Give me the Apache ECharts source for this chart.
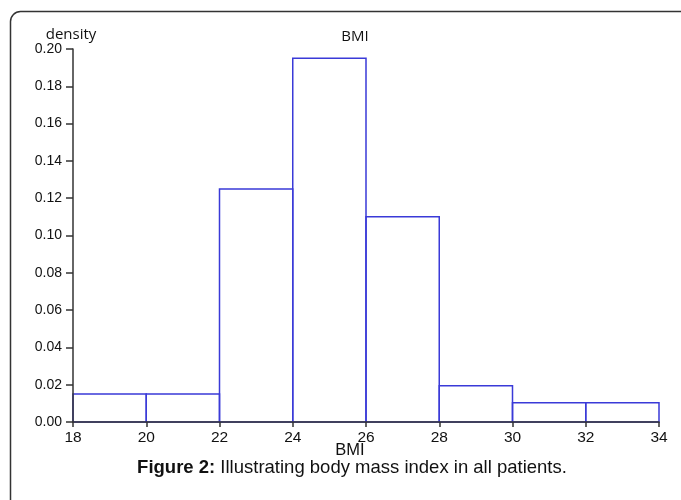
<!DOCTYPE html>
<html>
<head>
<meta charset="utf-8">
<script src="https://cdn.jsdelivr.net/npm/echarts@6/dist/echarts.min.js"></script>
<style>html,body{margin:0;padding:0;background:#fff;}#c{width:681px;height:500px;}</style>
</head>
<body>
<div id="c"></div>
<script>
// Histogram bins of BMI (start, end) and density
const binStarts = [18, 20, 22, 24, 26, 28, 30, 32];
const binEnds   = [20, 22, 24, 26, 28, 30, 32, 34];
const densities = [0.015, 0.015, 0.125, 0.195, 0.110, 0.0195, 0.0103, 0.0103];
const yTicks = ['0.00','0.02','0.04','0.06','0.08','0.10','0.12','0.14','0.16','0.18','0.20'];
const xTicks = ['18','20','22','24','26','28','30','32','34'];

const data = binStarts.map((s, i) => [s, binEnds[i], densities[i]]);
const lineColor = '#3a3ad8';
const axisColor = '#333333';

const chart = echarts.init(document.getElementById('c'), null, {renderer: 'canvas'});
chart.setOption({
  backgroundColor: '#ffffff',
  animation: false,
  title: [
    {text: 'BMI', left: 350, top: 24, textAlign: 'center',
     textStyle: {fontFamily: 'Open Sans', fontSize: 15, fontWeight: 'normal', color: '#111'}},
    {text: '{b|Figure 2:} Illustrating body mass index in all patients.', left: 347, top: 453, textAlign: 'center',
     textStyle: {fontFamily: 'Liberation Sans', fontSize: 18.5, fontWeight: 'normal', color: '#111',
       rich: {b: {fontFamily: 'Liberation Sans', fontSize: 18.5, fontWeight: 'bold', color: '#111'}}}}
  ],
  graphic: [
    {type: 'rect', shape: {x: 10.5, y: 11.5, width: 720, height: 560, r: 10}, silent: true,
     style: {fill: 'none', stroke: '#333', lineWidth: 1.5}, z: -10}
  ],
  grid: {left: 73, right: 22, top: 49, bottom: 78, containLabel: false},
  xAxis: {
    type: 'value', min: 18, max: 34, interval: 2, z: 5,
    name: 'BMI', nameLocation: 'middle', nameGap: 20, nameMoveOverlap: false,
    nameTextStyle: {fontFamily: 'Liberation Sans', fontSize: 16.5, color: '#111', padding: [0, 32, 0, 0]},
    axisLine: {show: true, lineStyle: {color: axisColor, width: 1.5}},
    axisTick: {show: true, inside: false, length: 5, lineStyle: {color: axisColor, width: 1.5}},
    axisLabel: {margin: 8, fontFamily: 'Liberation Sans', fontSize: 15.5, color: '#111',
      formatter: v => xTicks[xTicks.indexOf(String(v))] || String(v)},
    splitLine: {show: false}
  },
  yAxis: {
    type: 'value', min: 0, max: 0.2, interval: 0.02, z: 5,
    name: 'density', nameLocation: 'end', nameGap: 3,
    nameTextStyle: {fontFamily: 'Open Sans', fontSize: 15, color: '#111', align: 'center', verticalAlign: 'bottom', padding: [0, 4, 0, 0]},
    axisLine: {show: true, lineStyle: {color: axisColor, width: 1.5}},
    axisTick: {show: true, inside: false, length: 7, lineStyle: {color: axisColor, width: 1.5}},
    axisLabel: {margin: 11, fontFamily: 'Liberation Sans', fontSize: 14, color: '#111',
      formatter: v => yTicks[Math.round(v / 0.02)]},
    splitLine: {show: false}
  },
  series: [{
    type: 'custom',
    z: 1,
    data: data,
    encode: {x: [0, 1], y: 2},
    renderItem: function (params, api) {
      const p0 = api.coord([api.value(0), 0]);
      const p1 = api.coord([api.value(1), api.value(2)]);
      return {
        type: 'rect',
        shape: {x: p0[0], y: p1[1], width: p1[0] - p0[0], height: p0[1] - p1[1]},
        style: {fill: 'none', stroke: lineColor, lineWidth: 1.5}
      };
    }
  }]
});
</script>
</body>
</html>
